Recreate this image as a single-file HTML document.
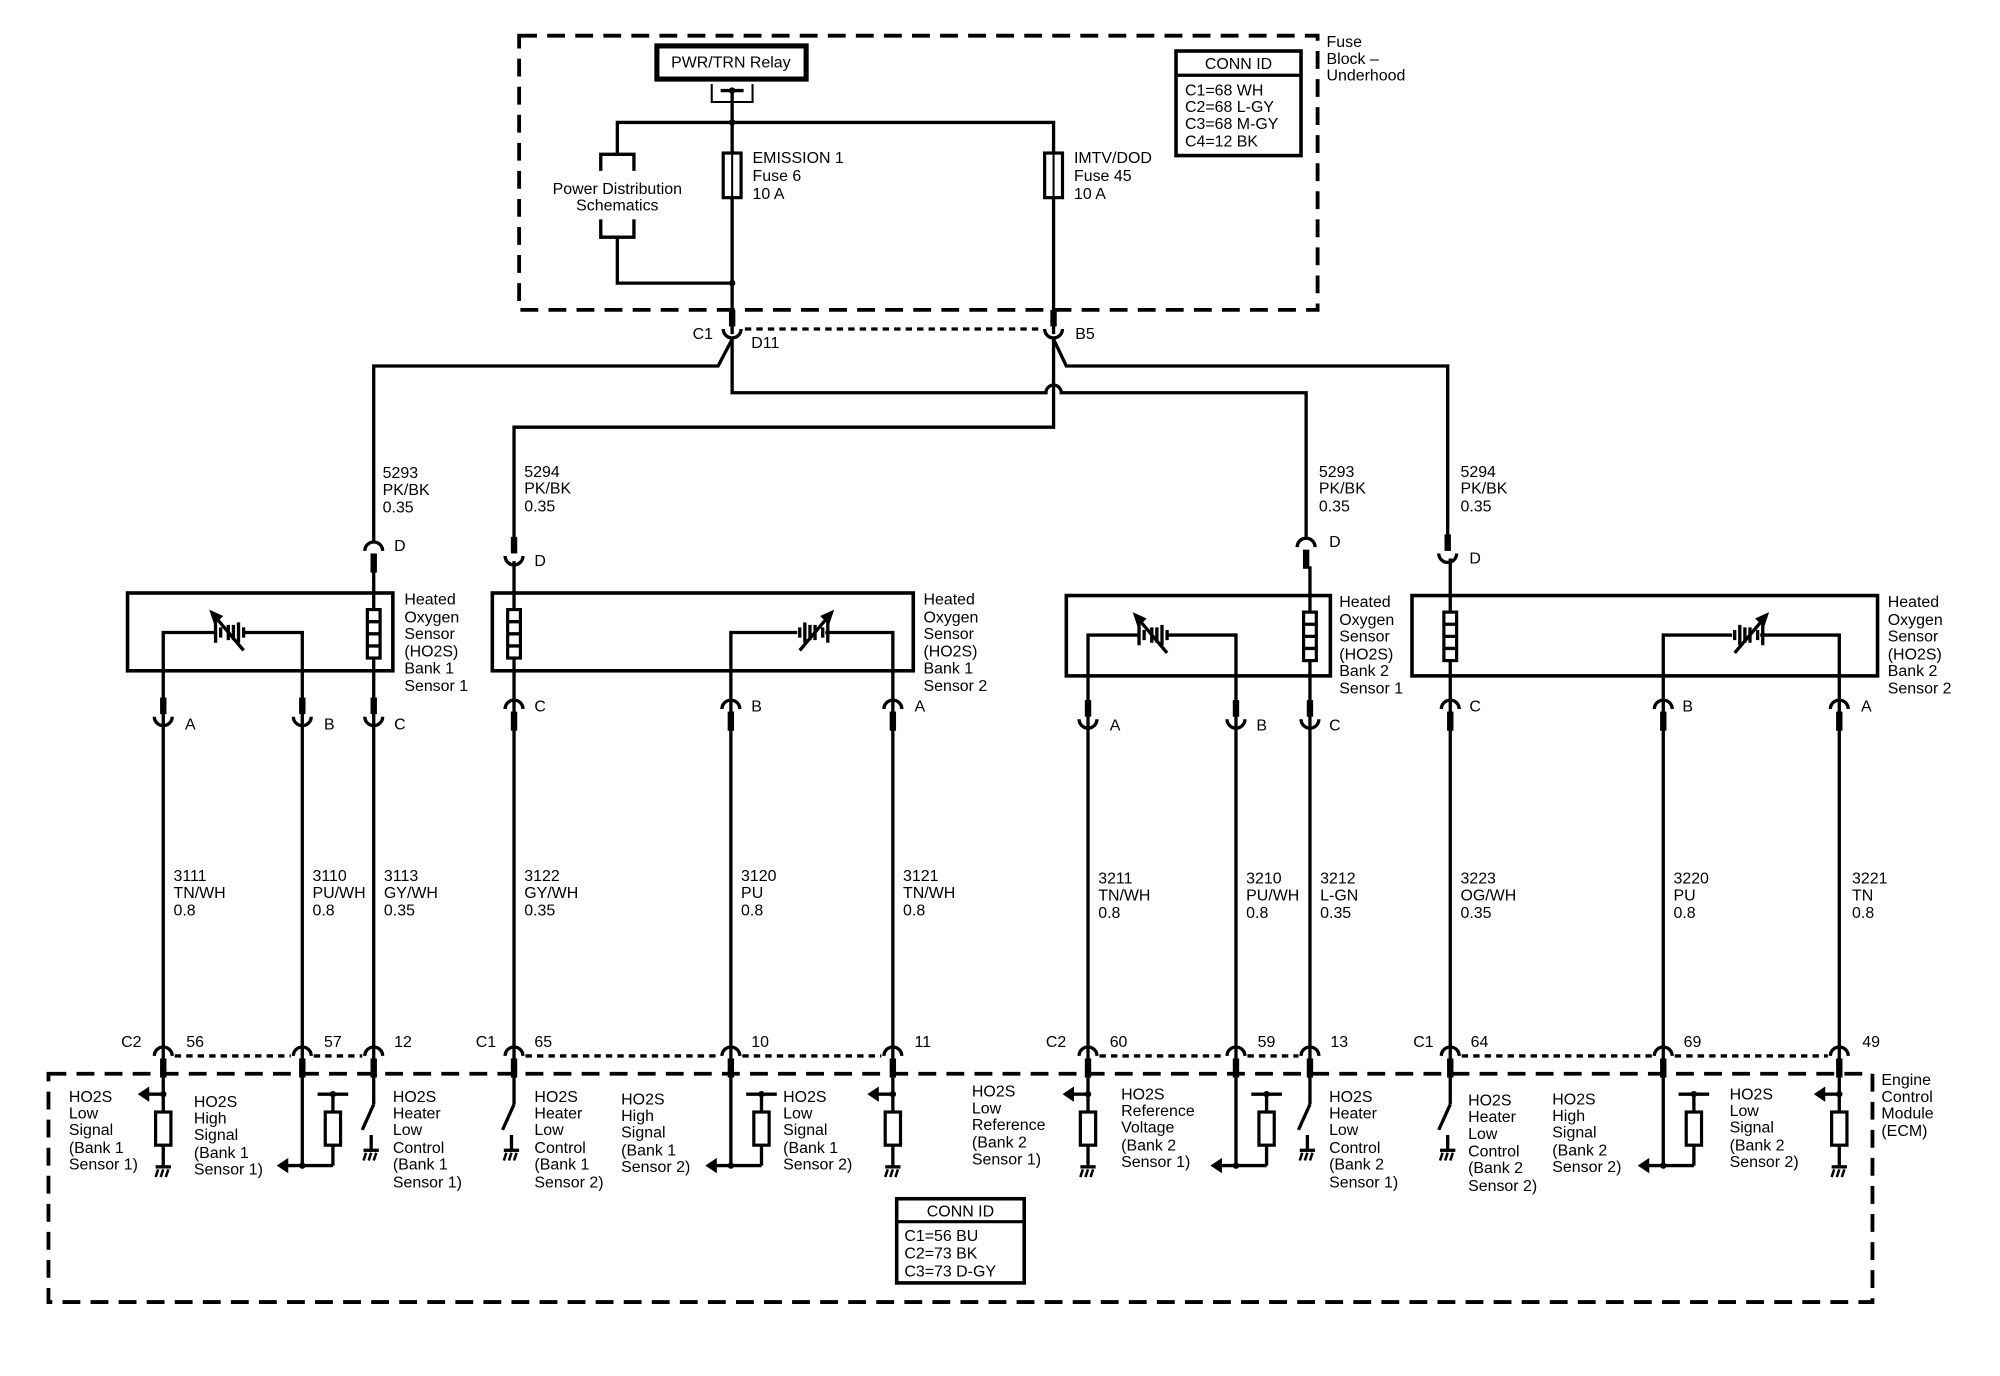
<!DOCTYPE html>
<html><head><meta charset="utf-8"><style>
html,body{margin:0;padding:0;background:#fff}
svg{display:block}
text{font-family:"Liberation Sans",Arial,sans-serif;font-size:12.5px;fill:#000}
.w{stroke:#000;stroke-width:2.6;fill:none}
.th{stroke:#000;stroke-width:1.6;fill:none}
.dash{stroke:#000;stroke-width:3;fill:none;stroke-dasharray:14 8}
.dot{stroke:#000;stroke-width:2.6;fill:none;stroke-dasharray:5 4}
</style></head><body>
<svg width="2000" height="1376" viewBox="0 0 1568 1079" preserveAspectRatio="none" xmlns="http://www.w3.org/2000/svg">
<defs>
<g id="cdn"><path d="M-7,4 A7,7 0 0 1 7,4" class="w"/><rect x="-2.5" y="6" width="5" height="15" fill="#000"/></g>
<g id="cup"><path d="M-7,-4 A7,7 0 0 0 7,-4" class="w"/><rect x="-2.5" y="-19" width="5" height="13" fill="#000"/></g>
<g id="gnd"><line x1="-6" y1="0" x2="6" y2="0" class="w"/><path d="M-4,2 L-6,8 M0,2 L-2,8 M4,2 L2,8" stroke="#000" stroke-width="2"/></g>
<g id="bat"><path d="M-12,-8 V8 M-8,-4 V4 M6,-8 V8 M10,-4 V4 M-2,-6 V6 M2,-6 V6" class="w"/><path d="M10,14 L-12,-12" class="w"/><polygon points="-17,-18 -6,-13 -13,-6" fill="#000"/></g>
<g id="heat"><rect x="-5" y="0" width="10" height="38" fill="#fff" stroke="#000" stroke-width="2.5"/><path d="M-5,9.5 H5 M-5,19 H5 M-5,28.5 H5" class="w"/></g>
<g id="res"><rect x="-6" y="0" width="12" height="26" fill="#fff" stroke="#000" stroke-width="2.5"/></g>
<g id="lowsig"><line x1="0" y1="845" x2="0" y2="915" class="w"/><line x1="0" y1="858" x2="-12" y2="858" class="w"/><polygon points="-20,858 -11,852 -11,864" fill="#000"/><circle cx="0" cy="858" r="2.5"/><use href="#res" y="872"/><use href="#gnd" y="915"/></g>
<g id="hisig"><line x1="0" y1="845" x2="0" y2="914" class="w"/><line x1="-12" y1="914" x2="24" y2="914" class="w"/><polygon points="-20,914 -11,908 -11,920" fill="#000"/><circle cx="0" cy="914" r="2.5"/><line x1="24" y1="914" x2="24" y2="858" class="w"/><line x1="12" y1="858" x2="36" y2="858" class="w"/><circle cx="24" cy="858" r="2.5"/><use href="#res" x="24" y="872"/></g>
<g id="sw"><line x1="0" y1="845" x2="0" y2="866" class="w"/><line x1="0" y1="866" x2="-9" y2="886" class="w"/><line x1="-2" y1="890" x2="-2" y2="902" class="w"/><use href="#gnd" x="-2" y="902"/></g>
</defs>

<!-- Fuse block -->
<rect x="407" y="28" width="626" height="215" class="dash"/>
<text x="1040" y="37">Fuse</text><text x="1040" y="50">Block –</text><text x="1040" y="63">Underhood</text>
<rect x="922" y="40" width="98" height="82" fill="none" stroke="#000" stroke-width="2.8"/>
<line x1="922" y1="59" x2="1020" y2="59" stroke="#000" stroke-width="2.5"/>
<text x="971" y="54" text-anchor="middle">CONN ID</text>
<text x="929" y="75">C1=68 WH</text><text x="929" y="88">C2=68 L-GY</text><text x="929" y="101">C3=68 M-GY</text><text x="929" y="115">C4=12 BK</text>
<rect x="515" y="36" width="117" height="26" fill="none" stroke="#000" stroke-width="4"/>
<text x="573" y="53" text-anchor="middle">PWR/TRN Relay</text>
<path d="M558,66 V80 H590 V66" class="th"/><line x1="565" y1="71" x2="583" y2="71" class="w"/><circle cx="574" cy="71" r="2.5"/>
<line x1="574" y1="71" x2="574" y2="262" class="w"/>
<path d="M484,121 V96 H826 V262" class="w"/><circle cx="574" cy="96" r="2.5"/>
<path d="M471,134 V121 H497 V134" class="w"/><path d="M471,172 V186 H497 V172" class="w"/>
<path d="M484,186 V222 H574" class="w"/><circle cx="574" cy="222" r="2.5"/>
<text x="484" y="152" text-anchor="middle">Power Distribution</text><text x="484" y="165" text-anchor="middle">Schematics</text>
<rect x="567" y="120" width="14" height="35" fill="#fff" stroke="#000" stroke-width="2.5"/><line x1="574" y1="120" x2="574" y2="155" class="th"/>
<rect x="819" y="120" width="14" height="35" fill="#fff" stroke="#000" stroke-width="2.5"/><line x1="826" y1="120" x2="826" y2="155" class="th"/>
<text x="590" y="128">EMISSION 1</text><text x="590" y="142">Fuse 6</text><text x="590" y="156">10 A</text>
<text x="842" y="128">IMTV/DOD</text><text x="842" y="142">Fuse 45</text><text x="842" y="156">10 A</text>
<use href="#cup" x="574" y="262"/><use href="#cup" x="826" y="262"/>
<line x1="584" y1="258" x2="816" y2="258" class="dot"/>
<text x="543" y="266">C1</text><text x="589" y="273">D11</text><text x="843" y="266">B5</text>
<!-- harness -->
<path d="M574,266 L563,287 H293 V424" class="w"/>
<path d="M574,266 V308 H820 A6,6 0 0 1 832,308 H1024 V421" class="w"/>
<path d="M826,266 L836,287 H1135 V423" class="w"/>
<path d="M826,266 V335 H403 V423" class="w"/>
<text x="300" y="375">5293</text><text x="300" y="388">PK/BK</text><text x="300" y="402">0.35</text>
<text x="411" y="374">5294</text><text x="411" y="387">PK/BK</text><text x="411" y="401">0.35</text>
<text x="1034" y="374">5293</text><text x="1034" y="387">PK/BK</text><text x="1034" y="401">0.35</text>
<text x="1145" y="374">5294</text><text x="1145" y="387">PK/BK</text><text x="1145" y="401">0.35</text>
<use href="#cdn" x="293" y="428"/><text x="309" y="432">D</text>
<use href="#cup" x="403" y="440"/><text x="419" y="444">D</text>
<use href="#cdn" x="1024" y="425"/><text x="1042" y="429">D</text>
<use href="#cup" x="1135" y="438"/><text x="1152" y="442">D</text>

<!-- Sensor 1 -->
<rect x="100" y="465" width="208" height="61" fill="none" stroke="#000" stroke-width="2.8"/>
<line x1="293" y1="447" x2="293" y2="845" class="w"/><use href="#heat" x="293" y="478"/>
<path d="M128,845 V496 H169 M191,496 H237 V845" class="w"/><use href="#bat" x="181" y="496"/>
<text x="317" y="474">Heated</text><text x="317" y="488">Oxygen</text><text x="317" y="501">Sensor</text><text x="317" y="515">(HO2S)</text><text x="317" y="528">Bank 1</text><text x="317" y="542">Sensor 1</text>
<use href="#cup" x="128" y="566"/><use href="#cup" x="237" y="566"/><use href="#cup" x="293" y="566"/>
<text x="145" y="572">A</text><text x="254" y="572">B</text><text x="309" y="572">C</text>
<!-- Sensor 2 -->
<rect x="386" y="465" width="330" height="61" fill="none" stroke="#000" stroke-width="2.8"/>
<line x1="403" y1="440" x2="403" y2="845" class="w"/><use href="#heat" x="403" y="478"/>
<path d="M573,845 V496 H625 M647,496 H700 V845" class="w"/><use href="#bat" transform="translate(637,496) scale(-1,1)"/>
<text x="724" y="474">Heated</text><text x="724" y="488">Oxygen</text><text x="724" y="501">Sensor</text><text x="724" y="515">(HO2S)</text><text x="724" y="528">Bank 1</text><text x="724" y="542">Sensor 2</text>
<use href="#cdn" x="403" y="552"/><use href="#cdn" x="573" y="552"/><use href="#cdn" x="700" y="552"/>
<text x="419" y="558">C</text><text x="589" y="558">B</text><text x="717" y="558">A</text>
<!-- Sensor 3 -->
<rect x="836" y="467" width="207" height="63" fill="none" stroke="#000" stroke-width="2.8"/>
<line x1="1027" y1="444" x2="1027" y2="845" class="w"/><use href="#heat" x="1027" y="480"/>
<path d="M853,845 V498 H893 M915,498 H969 V845" class="w"/><use href="#bat" x="905" y="498"/>
<text x="1050" y="476">Heated</text><text x="1050" y="490">Oxygen</text><text x="1050" y="503">Sensor</text><text x="1050" y="517">(HO2S)</text><text x="1050" y="530">Bank 2</text><text x="1050" y="544">Sensor 1</text>
<use href="#cup" x="853" y="568"/><use href="#cup" x="969" y="568"/><use href="#cup" x="1027" y="568"/>
<text x="870" y="573">A</text><text x="985" y="573">B</text><text x="1042" y="573">C</text>
<!-- Sensor 4 -->
<rect x="1107" y="467" width="365" height="63" fill="none" stroke="#000" stroke-width="2.8"/>
<line x1="1137" y1="438" x2="1137" y2="845" class="w"/><use href="#heat" x="1137" y="480"/>
<path d="M1304,845 V498 H1358 M1380,498 H1442 V845" class="w"/><use href="#bat" transform="translate(1370,498) scale(-1,1)"/>
<text x="1480" y="476">Heated</text><text x="1480" y="490">Oxygen</text><text x="1480" y="503">Sensor</text><text x="1480" y="517">(HO2S)</text><text x="1480" y="530">Bank 2</text><text x="1480" y="544">Sensor 2</text>
<use href="#cdn" x="1137" y="552"/><use href="#cdn" x="1304" y="552"/><use href="#cdn" x="1442" y="552"/>
<text x="1152" y="558">C</text><text x="1319" y="558">B</text><text x="1459" y="558">A</text>

<!-- wire labels -->
<text x="136" y="691">3111</text><text x="136" y="704">TN/WH</text><text x="136" y="718">0.8</text>
<text x="245" y="691">3110</text><text x="245" y="704">PU/WH</text><text x="245" y="718">0.8</text>
<text x="301" y="691">3113</text><text x="301" y="704">GY/WH</text><text x="301" y="718">0.35</text>
<text x="411" y="691">3122</text><text x="411" y="704">GY/WH</text><text x="411" y="718">0.35</text>
<text x="581" y="691">3120</text><text x="581" y="704">PU</text><text x="581" y="718">0.8</text>
<text x="708" y="691">3121</text><text x="708" y="704">TN/WH</text><text x="708" y="718">0.8</text>
<text x="861" y="693">3211</text><text x="861" y="706">TN/WH</text><text x="861" y="720">0.8</text>
<text x="977" y="693">3210</text><text x="977" y="706">PU/WH</text><text x="977" y="720">0.8</text>
<text x="1035" y="693">3212</text><text x="1035" y="706">L-GN</text><text x="1035" y="720">0.35</text>
<text x="1145" y="693">3223</text><text x="1145" y="706">OG/WH</text><text x="1145" y="720">0.35</text>
<text x="1312" y="693">3220</text><text x="1312" y="706">PU</text><text x="1312" y="720">0.8</text>
<text x="1452" y="693">3221</text><text x="1452" y="706">TN</text><text x="1452" y="720">0.8</text>

<!-- ECM connectors -->
<use href="#cdn" x="128" y="824"/><use href="#cdn" x="237" y="824"/><use href="#cdn" x="293" y="824"/>
<use href="#cdn" x="403" y="824"/><use href="#cdn" x="573" y="824"/><use href="#cdn" x="700" y="824"/>
<use href="#cdn" x="853" y="824"/><use href="#cdn" x="969" y="824"/><use href="#cdn" x="1027" y="824"/>
<use href="#cdn" x="1137" y="824"/><use href="#cdn" x="1304" y="824"/><use href="#cdn" x="1442" y="824"/>
<path d="M137,828 H228 M246,828 H284 M412,828 H564 M582,828 H691 M862,828 H960 M978,828 H1018 M1146,828 H1295 M1313,828 H1433" class="dot"/>
<text x="95" y="821">C2</text><text x="146" y="821">56</text><text x="254" y="821">57</text><text x="309" y="821">12</text>
<text x="373" y="821">C1</text><text x="419" y="821">65</text><text x="589" y="821">10</text><text x="717" y="821">11</text>
<text x="820" y="821">C2</text><text x="870" y="821">60</text><text x="986" y="821">59</text><text x="1043" y="821">13</text>
<text x="1108" y="821">C1</text><text x="1153" y="821">64</text><text x="1320" y="821">69</text><text x="1460" y="821">49</text>

<!-- ECM box -->
<rect x="38" y="842" width="1430" height="179" class="dash"/>
<text x="1475" y="851">Engine</text><text x="1475" y="864">Control</text><text x="1475" y="877">Module</text><text x="1475" y="891">(ECM)</text>
<use href="#lowsig" x="128"/><use href="#hisig" x="237"/><use href="#sw" x="293"/>
<use href="#sw" x="403"/><use href="#hisig" x="573"/><use href="#lowsig" x="700"/>
<use href="#lowsig" x="853"/><use href="#hisig" x="969"/><use href="#sw" x="1027"/>
<use href="#sw" x="1137"/><use href="#hisig" x="1304"/><use href="#lowsig" x="1442"/>

<g>
<text x="54" y="864">HO2S</text><text x="54" y="877">Low</text><text x="54" y="890">Signal</text><text x="54" y="904">(Bank 1</text><text x="54" y="917">Sensor 1)</text>
<text x="152" y="868">HO2S</text><text x="152" y="881">High</text><text x="152" y="894">Signal</text><text x="152" y="908">(Bank 1</text><text x="152" y="921">Sensor 1)</text>
<text x="308" y="864">HO2S</text><text x="308" y="877">Heater</text><text x="308" y="890">Low</text><text x="308" y="904">Control</text><text x="308" y="917">(Bank 1</text><text x="308" y="931">Sensor 1)</text>
<text x="419" y="864">HO2S</text><text x="419" y="877">Heater</text><text x="419" y="890">Low</text><text x="419" y="904">Control</text><text x="419" y="917">(Bank 1</text><text x="419" y="931">Sensor 2)</text>
<text x="487" y="866">HO2S</text><text x="487" y="879">High</text><text x="487" y="892">Signal</text><text x="487" y="906">(Bank 1</text><text x="487" y="919">Sensor 2)</text>
<text x="614" y="864">HO2S</text><text x="614" y="877">Low</text><text x="614" y="890">Signal</text><text x="614" y="904">(Bank 1</text><text x="614" y="917">Sensor 2)</text>
<text x="762" y="860">HO2S</text><text x="762" y="873">Low</text><text x="762" y="886">Reference</text><text x="762" y="900">(Bank 2</text><text x="762" y="913">Sensor 1)</text>
<text x="879" y="862">HO2S</text><text x="879" y="875">Reference</text><text x="879" y="888">Voltage</text><text x="879" y="902">(Bank 2</text><text x="879" y="915">Sensor 1)</text>
<text x="1042" y="864">HO2S</text><text x="1042" y="877">Heater</text><text x="1042" y="890">Low</text><text x="1042" y="904">Control</text><text x="1042" y="917">(Bank 2</text><text x="1042" y="931">Sensor 1)</text>
<text x="1151" y="867">HO2S</text><text x="1151" y="880">Heater</text><text x="1151" y="893">Low</text><text x="1151" y="907">Control</text><text x="1151" y="920">(Bank 2</text><text x="1151" y="934">Sensor 2)</text>
<text x="1217" y="866">HO2S</text><text x="1217" y="879">High</text><text x="1217" y="892">Signal</text><text x="1217" y="906">(Bank 2</text><text x="1217" y="919">Sensor 2)</text>
<text x="1356" y="862">HO2S</text><text x="1356" y="875">Low</text><text x="1356" y="888">Signal</text><text x="1356" y="902">(Bank 2</text><text x="1356" y="915">Sensor 2)</text>
</g>
<rect x="703" y="940" width="100" height="66" fill="none" stroke="#000" stroke-width="2.8"/>
<line x1="703" y1="958" x2="803" y2="958" stroke="#000" stroke-width="2.5"/>
<text x="753" y="954" text-anchor="middle">CONN ID</text>
<text x="709" y="973">C1=56 BU</text><text x="709" y="987">C2=73 BK</text><text x="709" y="1001">C3=73 D-GY</text>
</svg>
</body></html>
